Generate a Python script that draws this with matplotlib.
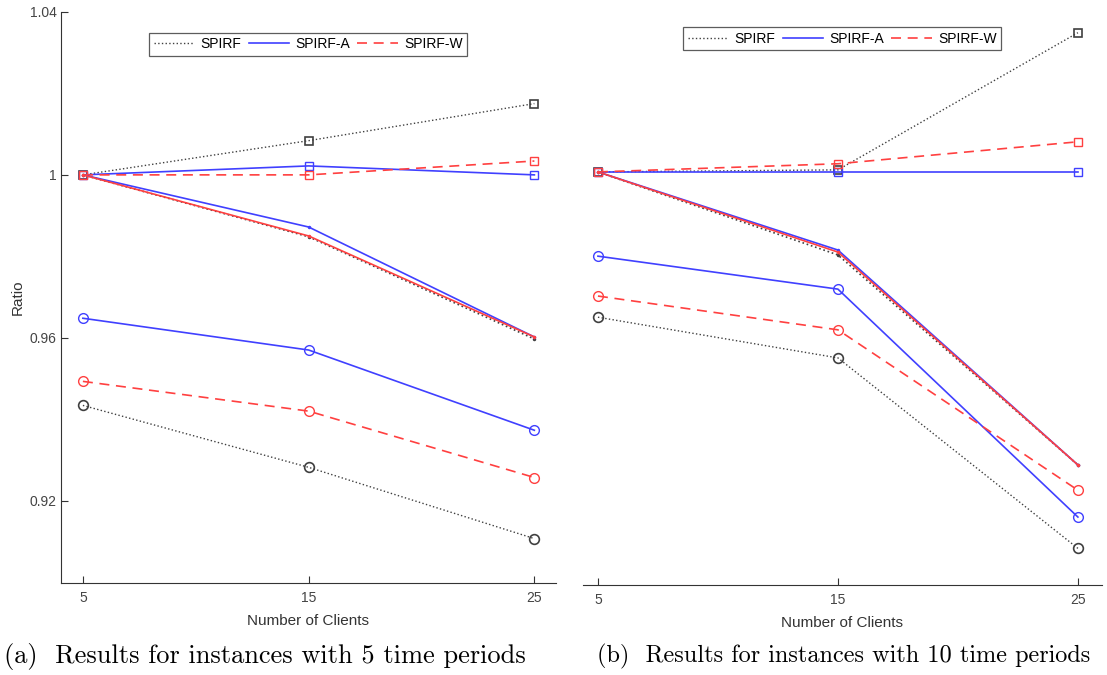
import matplotlib
matplotlib.use("Agg")
import matplotlib.pyplot as plt

clients = [5, 15, 25]

# (a) 5 time periods
a_spirf_sq = [1.0, 1.0084, 1.0175]
a_spirfa_sq = [1.0, 1.0022, 1.0]
a_spirfw_sq = [1.0, 1.0, 1.0034]
a_spirf_dot = [1.0, 0.9848, 0.9597]
a_spirfa_dot = [1.0, 0.9872, 0.9602]
a_spirfw_dot = [1.0, 0.9850, 0.9602]
a_spirf_ci = [0.9434, 0.9282, 0.9107]
a_spirfa_ci = [0.9648, 0.9570, 0.9373]
a_spirfw_ci = [0.9493, 0.9420, 0.9257]

# (b) 10 time periods
b_spirf_sq = [1.0, 1.0005, 1.0342]
b_spirfa_sq = [1.0, 1.0, 1.0]
b_spirfw_sq = [1.0, 1.0020, 1.0074]
b_spirf_dot = [1.0, 0.9796, 0.9280]
b_spirfa_dot = [1.0, 0.9808, 0.9280]
b_spirfw_dot = [1.0, 0.9803, 0.9280]
b_spirf_ci = [0.9643, 0.9543, 0.9075]
b_spirfa_ci = [0.9793, 0.9712, 0.9152]
b_spirfw_ci = [0.9695, 0.9612, 0.9218]

captions = ["(a)  Results for instances with 5 time periods",
            "(b)  Results for instances with 10 time periods"]

BLACK = (0.25, 0.25, 0.25)
BLUE = (0.25, 0.25, 1.0)
RED = (1.0, 0.25, 0.25)
plt.rcParams['font.family'] = ['Liberation Sans', 'DejaVu Sans']

fig = plt.figure(figsize=(11.07, 6.75), dpi=100)
ax1 = fig.add_axes([0.0551, 0.1363, 0.447, 0.846])
ax2 = fig.add_axes([0.5266, 0.1333, 0.4688, 0.849])


def draw(ax, sq, dot, ci, leg_y):
    s, a, w = sq
    ax.plot(clients, s, ':', color=BLACK, lw=1, marker='s', ms=6, mfc='none', mew=1.2)
    ax.plot(clients, a, '-', color=BLUE, lw=1.2, marker='s', ms=6, mfc='none', mew=1.0)
    ax.plot(clients, w, '--', color=RED, lw=1.2, dashes=(6, 4), marker='s', ms=6, mfc='none', mew=1.0)
    s, a, w = dot
    ax.plot(clients, s, ':', color=BLACK, lw=1.2, marker='.', ms=3)
    ax.plot(clients, a, '-', color=BLUE, lw=1.2, marker='.', ms=3)
    ax.plot(clients, w, '-', color=RED, lw=1.2, marker='.', ms=3)
    s, a, w = ci
    ax.plot(clients, s, ':', color=BLACK, lw=1, marker='o', ms=7, mfc='none', mew=1.2)
    ax.plot(clients, a, '-', color=BLUE, lw=1.2, marker='o', ms=7, mfc='none', mew=1.0)
    ax.plot(clients, w, '--', color=RED, lw=1.2, dashes=(6, 4), marker='o', ms=7, mfc='none', mew=1.0)
    h1, = ax.plot([], [], ':', color=BLACK, lw=1)
    h2, = ax.plot([], [], '-', color=BLUE, lw=1.2)
    h3, = ax.plot([], [], '--', color=RED, lw=1.2, dashes=(6, 4))
    leg = ax.legend([h1, h2, h3], ["SPIRF", "SPIRF-A", "SPIRF-W"], ncol=3,
                    loc='upper center', bbox_to_anchor=(0.5, leg_y), fontsize=10,
                    frameon=True, fancybox=False, handlelength=2.9,
                    columnspacing=0.5, handletextpad=0.5, borderpad=0.3)
    leg.get_frame().set_edgecolor('#333333')
    leg.get_frame().set_linewidth(0.9)
    ax.set_xticks(clients)
    ax.set_xlabel("Number of Clients", fontsize=11, color='#333333', labelpad=6)
    ax.tick_params(direction='in', length=5, labelsize=10, labelcolor='#444444',
                   color='#333333', pad=6)
    for sp in ['top', 'right']:
        ax.spines[sp].set_visible(False)
    for sp in ['left', 'bottom']:
        ax.spines[sp].set_color('#333333')


draw(ax1, (a_spirf_sq, a_spirfa_sq, a_spirfw_sq),
     (a_spirf_dot, a_spirfa_dot, a_spirfw_dot),
     (a_spirf_ci, a_spirfa_ci, a_spirfw_ci), 0.975)
ax1.set_xlim(4.03, 25.95)
ax1.set_ylim(0.8998, 1.04)
ax1.set_yticks([0.92, 0.96, 1.0, 1.04])
ax1.set_yticklabels(["0.92", "0.96", "1", "1.04"])
ax1.set_ylabel("Ratio", fontsize=11, color='#333333')
ax1.tick_params(axis='y', pad=3)

draw(ax2, (b_spirf_sq, b_spirfa_sq, b_spirfw_sq),
     (b_spirf_dot, b_spirfa_dot, b_spirfw_dot),
     (b_spirf_ci, b_spirfa_ci, b_spirfw_ci), 0.985)
ax2.set_xlim(4.375, 26.0)
ax2.set_ylim(0.8985, 1.0393)
ax2.spines['left'].set_visible(False)
ax2.set_yticks([])

fig.text(0.2394, 0.027, captions[0], ha='center', va='center', fontsize=19, family='cmr10')
fig.text(0.762, 0.027, captions[1], ha='center', va='center', fontsize=17.5, family='cmr10')

fig.savefig("out.png", dpi=100)
